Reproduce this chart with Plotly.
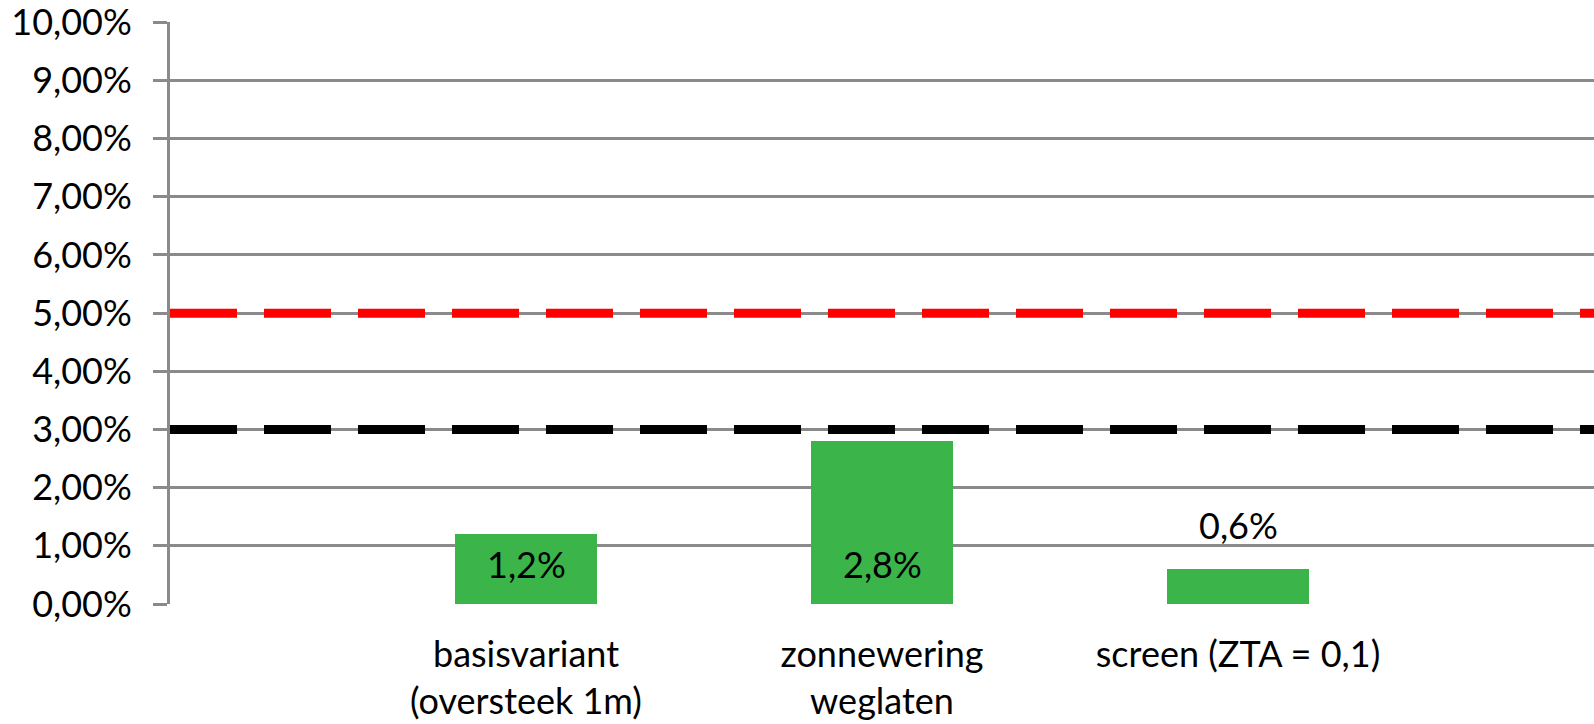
import plotly.graph_objects as go

# Data
categories = ["basisvariant<br>(oversteek 1m)", "zonnewering<br>weglaten", "screen (ZTA = 0,1)"]
positions = [1, 2, 3]
overheating_pct = [1.2, 2.8, 0.6]
limit_red = 5.0
limit_black = 3.0
y_ticks = [0, 1, 2, 3, 4, 5, 6, 7, 8, 9, 10]
y_tick_labels = [f"{v:.2f}".replace(".", ",") + "%" for v in y_ticks]

FONT = "Lato"
FS = 36
GRID = "#8a8a8a"
GREEN = "#3bb44a"

fig = go.Figure()

fig.add_trace(go.Bar(
    x=positions, y=overheating_pct, width=0.4,
    marker=dict(color=GREEN, line=dict(width=0)),
    hoverinfo="skip", showlegend=False,
))

for level, color in [(limit_red, "#ff0000"), (limit_black, "#000000")]:
    fig.add_trace(go.Scatter(
        x=[0, 4], y=[level, level], mode="lines",
        line=dict(color=color, width=9, dash="67px,27px"),
        hoverinfo="skip", showlegend=False,
    ))

def fmt(v):
    return f"{v:.1f}".replace(".", ",") + "%"

for x, v in zip(positions, overheating_pct):
    if v >= 1.0:
        fig.add_annotation(x=x, y=0, yanchor="middle", yshift=40, text=fmt(v),
                           showarrow=False, font=dict(family=FONT, size=FS, color="#000"))
    else:
        fig.add_annotation(x=x, y=v, yanchor="middle", yshift=44, text=fmt(v),
                           showarrow=False, font=dict(family=FONT, size=FS, color="#000"))

fig.update_layout(
    width=1594, height=724,
    margin=dict(l=170, r=0, t=22, b=120),
    paper_bgcolor="white", plot_bgcolor="white",
    font=dict(family=FONT, size=FS, color="#000"),
    bargap=0,
)
fig.update_xaxes(
    range=[0, 4], tickmode="array", tickvals=positions, ticktext=categories,
    showgrid=False, zeroline=False, showline=False, ticks="",
    ticklabelstandoff=26,
    tickfont=dict(family=FONT, size=FS, color="#000"),
)
fig.update_yaxes(
    range=[0, 10.005], tickmode="array", tickvals=y_ticks, ticktext=y_tick_labels,
    showgrid=True, gridcolor=GRID, gridwidth=3,
    zeroline=False, showline=True, linecolor=GRID, linewidth=3,
    ticks="outside", ticklen=14, tickwidth=3, tickcolor=GRID,
    ticklabelstandoff=14, ticklabeloverflow="allow",
    tickfont=dict(family=FONT, size=FS, color="#000"),
)

fig.write_html("out.html")
